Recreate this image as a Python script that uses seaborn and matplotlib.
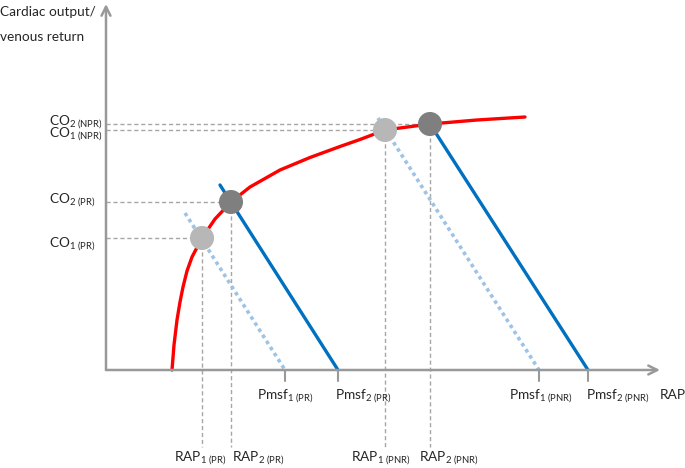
import matplotlib
matplotlib.use("Agg")
import matplotlib.pyplot as plt
import seaborn as sns
import pandas as pd

# ---- data (schematic units: x = RAP, y = cardiac output / venous return) ----
curve_rap = [6.6, 6.8, 7.1, 7.4, 7.7, 8.1, 8.6, 9.6, 10.9, 12.5, 14.4, 17.4, 20.4,
             23.4, 25.4, 27.9, 32.4, 37.1, 41.9]
curve_co = [0.0, 2.5, 5.0, 6.8, 8.3, 9.9, 11.3, 13.2, 15.1, 16.8, 18.3, 20.0, 21.25,
            22.35, 23.05, 24.0, 24.6, 25.0, 25.3]

# venous return lines: (start rap, start co) -> (pmsf, 0)
vr_names = ["PR1", "PR2", "PNR1", "PNR2"]
vr_start_rap = [7.9, 11.4, 27.2, 32.4]
vr_start_co = [15.7, 18.5, 25.2, 24.6]
pmsf = [17.9, 23.2, 43.3, 48.2]
vr_style = ["dotted", "solid", "dotted", "solid"]

# operating points
pt_rap = [9.6, 12.5, 27.9, 32.4]
pt_co = [13.2, 16.8, 24.0, 24.6]
pt_kind = ["1", "2", "1", "2"]

co_labels = ["CO$_{\\mathregular{1\\ (PR)}}$", "CO$_{\\mathregular{2\\ (PR)}}$",
             "CO$_{\\mathregular{1\\ (NPR)}}$", "CO$_{\\mathregular{2\\ (NPR)}}$"]
rap_labels = ["RAP$_{\\mathregular{1\\ (PR)}}$", "RAP$_{\\mathregular{2\\ (PR)}}$",
              "RAP$_{\\mathregular{1\\ (PNR)}}$", "RAP$_{\\mathregular{2\\ (PNR)}}$"]
pmsf_labels = ["Pmsf$_{\\mathregular{1\\ (PR)}}$", "Pmsf$_{\\mathregular{2\\ (PR)}}$",
               "Pmsf$_{\\mathregular{1\\ (PNR)}}$", "Pmsf$_{\\mathregular{2\\ (PNR)}}$"]

sns.set_style("white")
plt.rcParams["font.family"] = ["Lato", "DejaVu Sans"]
plt.rcParams["mathtext.fontset"] = "custom"
plt.rcParams["mathtext.rm"] = "Lato"
plt.rcParams["mathtext.it"] = "Lato:italic"
plt.rcParams["mathtext.bf"] = "Lato:bold"

fig = plt.figure(figsize=(6.85, 4.68), dpi=100)
ax = fig.add_axes([0, 0, 1, 1])
ax.set_xlim(-10.6, 57.9)
ax.set_ylim(-9.8, 37.0)
ax.axis("off")

axis_col = "#999999"
dash_col = "#a6a6a6"
fs = 9.8

# guide dashed lines
for r, c in zip(pt_rap, pt_co):
    ax.plot([0, r], [c, c], color=dash_col, lw=1.0, ls=(0, (3, 2)), zorder=1)
    ax.plot([r, r], [c, -7.7], color=dash_col, lw=1.0, ls=(0, (3, 2)), zorder=1)

# cardiac function curve
curve = pd.DataFrame({"rap": curve_rap, "co": curve_co})
sns.lineplot(data=curve, x="rap", y="co", ax=ax, color="#ff0000", lw=2.4,
             sort=False, estimator=None, zorder=3)
ax.lines[-1].set_solid_joinstyle("round")

# venous return lines
for sr, sc, p, st in zip(vr_start_rap, vr_start_co, pmsf, vr_style):
    d = pd.DataFrame({"rap": [sr, p], "co": [sc, 0.0]})
    if st == "solid":
        sns.lineplot(data=d, x="rap", y="co", ax=ax, color="#0070c0", lw=2.4,
                     sort=False, estimator=None, zorder=4)
    else:
        sns.lineplot(data=d, x="rap", y="co", ax=ax, color="#9dc3e6", lw=2.6,
                     sort=False, estimator=None, zorder=2)
        ax.lines[-1].set_linestyle((0, (1, 1)))

# axes with arrows
ax.annotate("", xy=(55.4, 0), xytext=(0, 0),
            arrowprops=dict(arrowstyle="->", color=axis_col, lw=1.8, mutation_scale=16,
                            shrinkA=0, shrinkB=0), zorder=5)
ax.annotate("", xy=(0, 36.6), xytext=(0, 0),
            arrowprops=dict(arrowstyle="->", color=axis_col, lw=1.8, mutation_scale=16,
                            shrinkA=0, shrinkB=0), zorder=5)
for p in pmsf:
    ax.plot([p, p], [0, -1.1], color=axis_col, lw=1.5, zorder=5)

# points
pts = pd.DataFrame({"rap": pt_rap, "co": pt_co, "kind": pt_kind})
sns.scatterplot(data=pts, x="rap", y="co", hue="kind",
                palette={"1": "#b7b7b7", "2": "#7f7f7f"}, s=300, linewidth=0,
                ax=ax, legend=False, zorder=6)
ax.set_xlabel("")
ax.set_ylabel("")

# texts
ax.text(-10.6, 35.8, "Cardiac output/", fontsize=fs, ha="left", va="center")
ax.text(-10.6, 33.3, "venous return", fontsize=fs, ha="left", va="center")

co_x = [-1.0, -1.0, -0.3, -0.3]
co_base = [12.3, 16.7, 23.3, 24.5]
for lab, x, y in zip(co_labels, co_x, co_base):
    ax.text(x, y, lab, fontsize=fs, ha="right", va="baseline")

pm_x = [17.9, 22.9, 43.5, 48.0]
pm_ha = ["center", "left", "center", "left"]
for lab, x, h in zip(pmsf_labels, pm_x, pm_ha):
    ax.text(x, -2.9, lab, fontsize=fs, ha=h, va="baseline")

rp_x = [9.4, 12.6, 27.5, 31.3]
rp_ha = ["center", "left", "center", "left"]
for lab, x, h in zip(rap_labels, rp_x, rp_ha):
    ax.text(x, -9.1, lab, fontsize=fs, ha=h, va="baseline")

ax.text(55.4, -2.9, "RAP", fontsize=fs, ha="left", va="baseline")

fig.savefig("out.png", dpi=100)
